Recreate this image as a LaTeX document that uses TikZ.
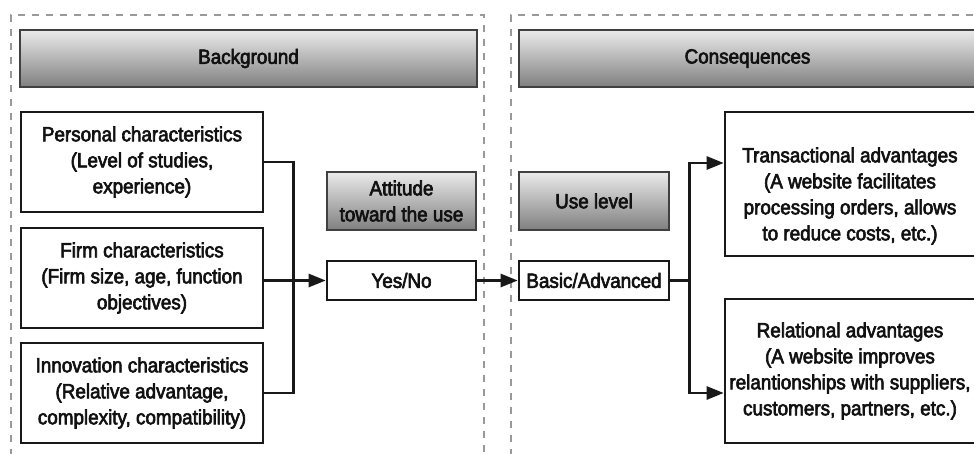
\documentclass[tikz,border=0pt]{standalone}
\usepackage{fontspec}
\setmainfont{Liberation Sans}[FakeStretch=0.92, FakeBold=3]
\usetikzlibrary{arrows.meta}

\definecolor{ink}{HTML}{111111}
\tikzset{
  frame/.style={draw=black!40, line width=1.2pt, dash pattern=on 7pt off 7pt},
  head/.style={draw=black!75, line width=1.2pt, top color=black!8, bottom color=black!50, text=ink, align=center},
  item/.style={draw=black!90, line width=2.6pt, fill=white, text=ink, align=center},
  link/.style={line width=2.6pt, draw=black!90},
  tip/.style={-{Triangle[length=17pt,width=13pt]}}
}

\begin{document}
\begin{tikzpicture}[x=1pt,y=-1pt,font=\fontsize{20.5}{26}\selectfont]
\useasboundingbox (0,0) rectangle (974,454);
\draw[frame] (11,470) -- (11,15) -- (484,15) -- (484,470);
\draw[frame] (511,470) -- (511,15) -- (990,15) -- (990,470);

\node[head, minimum width=457pt, minimum height=57pt] (bg) at (248.5,58.5) {Background};
\node[head, minimum width=457pt, minimum height=57pt] (cons) at (747.5,58.5) {Consequences};

\node[item, minimum width=242pt, minimum height=100pt] (personal) at (142,162) {Personal characteristics\\(Level of studies,\\experience)};
\node[item, minimum width=242pt, minimum height=100pt] (firm) at (142,278) {Firm characteristics\\(Firm size, age, function\\objectives)};
\node[item, minimum width=242pt, minimum height=100pt] (innov) at (142,393) {Innovation characteristics\\(Relative advantage,\\complexity, compatibility)};

\node[head, minimum width=149pt, minimum height=58pt] (attitude) at (401.5,201) {Attitude\\toward the use};
\node[item, minimum width=149pt, minimum height=39pt] (yesno) at (401.5,280.5) {Yes/No};
\node[head, minimum width=150pt, minimum height=58pt] (uselevel) at (594,201) {Use level};
\node[item, minimum width=150pt, minimum height=39pt] (basic) at (594,280.5) {Basic/Advanced};

\node[item, minimum width=250pt, minimum height=144pt,
  label={[text=ink, align=center, yshift=-12pt]center:{Transactional advantages\\(A website facilitates\\processing orders, allows\\to reduce costs, etc.)}}] (trans) at (850,184) {};
\node[item, minimum width=250pt, minimum height=144pt] (rel) at (850,371) {Relational advantages\\(A website improves\\relantionships with suppliers,\\customers, partners, etc.)};

\draw[link] (personal.east) -- ++(29,0) |- (innov.east);
\draw[link,tip] (firm.east |- yesno.west) -- (yesno.west);
\draw[link,tip] (yesno.east) -- (basic.west);
\draw[link,tip] (basic.east) -- ++(19,0) |- ([yshift=21pt]trans.west);
\draw[link,tip] (basic.east) -- ++(19,0) |- ([yshift=-22pt]rel.west);
\end{tikzpicture}
\end{document}
